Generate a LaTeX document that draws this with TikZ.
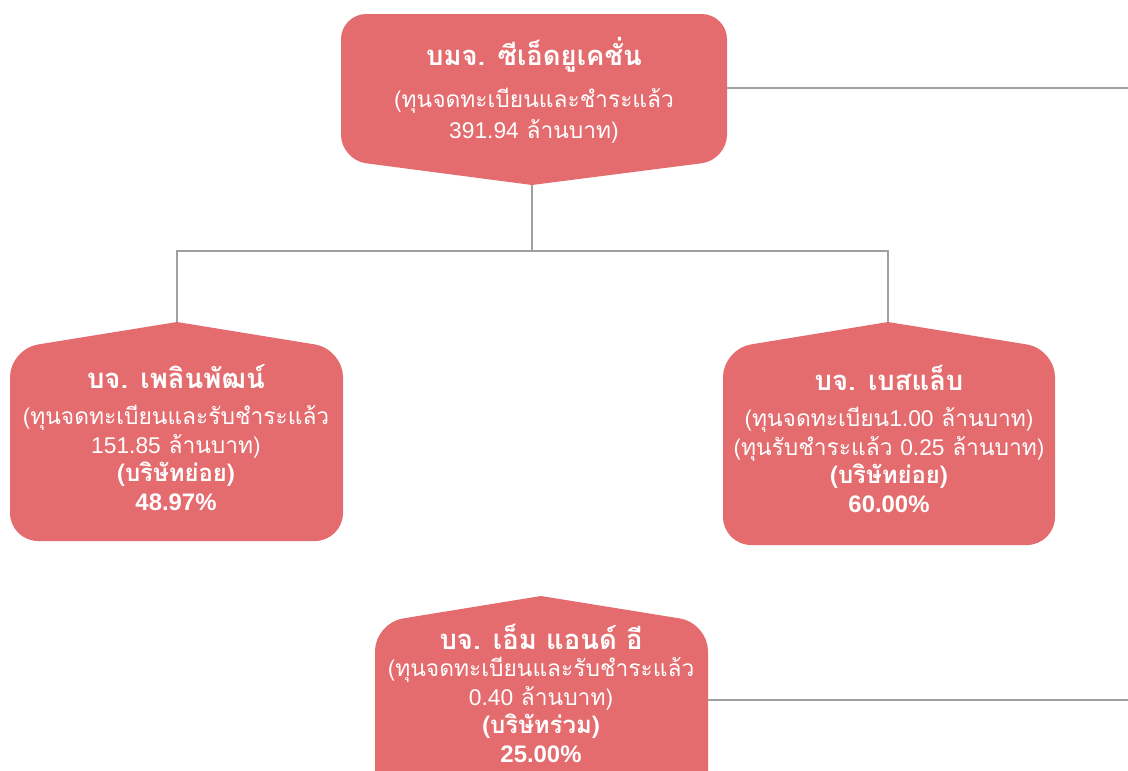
\documentclass[tikz,border=0pt]{standalone}
\usepackage{fontspec}
\setmainfont{Loma}[Script=Thai]
\newfontfamily\lat{Liberation Sans}
\definecolor{boxred}{HTML}{E46B6E}
\definecolor{linegray}{HTML}{A0A0A0}

\tikzset{
  link/.style={draw=linegray, line width=2.1pt},
  title/.style={text=white, font=\bfseries\fontsize{19.5}{22}\selectfont},
  info/.style={text=white, align=center, font=\fontsize{16.2}{20.3}\selectfont},
}
\newcommand\share[1]{{\fontsize{17}{20.3}\selectfont\bfseries #1}}

\begin{document}
\begin{tikzpicture}[x=0.025cm,y=-0.025cm]
\useasboundingbox (0,0) rectangle (1128,770);
\clip (0,0) rectangle (1128,770);

%company boxes

\fill[boxred] (534,14) [rounded corners=18pt] -- (341,14) -- (341,160) [sharp corners] -- (532,185) [rounded corners=18pt] -- (727,160) -- (727,14) -- cycle;
\fill[boxred] (177,541) [rounded corners=20pt] -- (10,541) -- (10,349) [sharp corners] -- (177,322) [rounded corners=20pt] -- (343,349) -- (343,541) -- cycle;
\fill[boxred] (888,545) [rounded corners=20pt] -- (723,545) -- (723,349) [sharp corners] -- (888,322) [rounded corners=20pt] -- (1055,349) -- (1055,545) -- cycle;
\fill[boxred] (541,800) [rounded corners=20pt] -- (375,800) -- (375,623) [sharp corners] -- (541,596) [rounded corners=20pt] -- (708,623) -- (708,800) -- cycle;

\coordinate (ced tip) at (532,185);
\coordinate (ced east) at (727,88);
\coordinate (ced out) at (1128,88);
\coordinate (bus) at (532,251);
\coordinate (plearn tip) at (177,322);
\coordinate (bestlab tip) at (888,322);
\coordinate (me east) at (708,700);
\coordinate (me out) at (1128,700);

%names and capital

\node[title] (ced) at (534,55) {บมจ. ซีเอ็ดยูเคชั่น};
\node[info,font=\fontsize{16.2}{22}\selectfont] (ced cap) at (534,116) {(ทุนจดทะเบียนและชำระแล้ว\\{\lat 391.94} ล้านบาท)};

\node[title] (plearn) at (176,377) {บจ. เพลินพัฒน์};
\node[info] (plearn cap) at (176,458) {(ทุนจดทะเบียนและรับชำระแล้ว\\{\lat 151.85} ล้านบาท)\\\share{(บริษัทย่อย)}\\\share{\lat 48.97\%}};

\node[title] (bestlab) at (889,378) {บจ. เบสแล็บ};
\node[info] (bestlab cap) at (889,460) {(ทุนจดทะเบียน{\lat 1.00} ล้านบาท)\\(ทุนรับชำระแล้ว {\lat 0.25} ล้านบาท)\\\share{(บริษัทย่อย)}\\\share{\lat 60.00\%}};

\node[title] (me) at (541,637) {บจ. เอ็ม แอนด์ อี};
\node[info] (me cap) at (541,710) {(ทุนจดทะเบียนและรับชำระแล้ว\\{\lat 0.40} ล้านบาท)\\\share{(บริษัทร่วม)}\\\share{\lat 25.00\%}};

%holding lines

\draw[link] (ced tip) -- (bus) -| (plearn tip);
\draw[link] (bus) -| (bestlab tip);
\draw[link] (ced east) -- (ced out);
\draw[link] (me east) -- (me out);
\end{tikzpicture}
\end{document}
